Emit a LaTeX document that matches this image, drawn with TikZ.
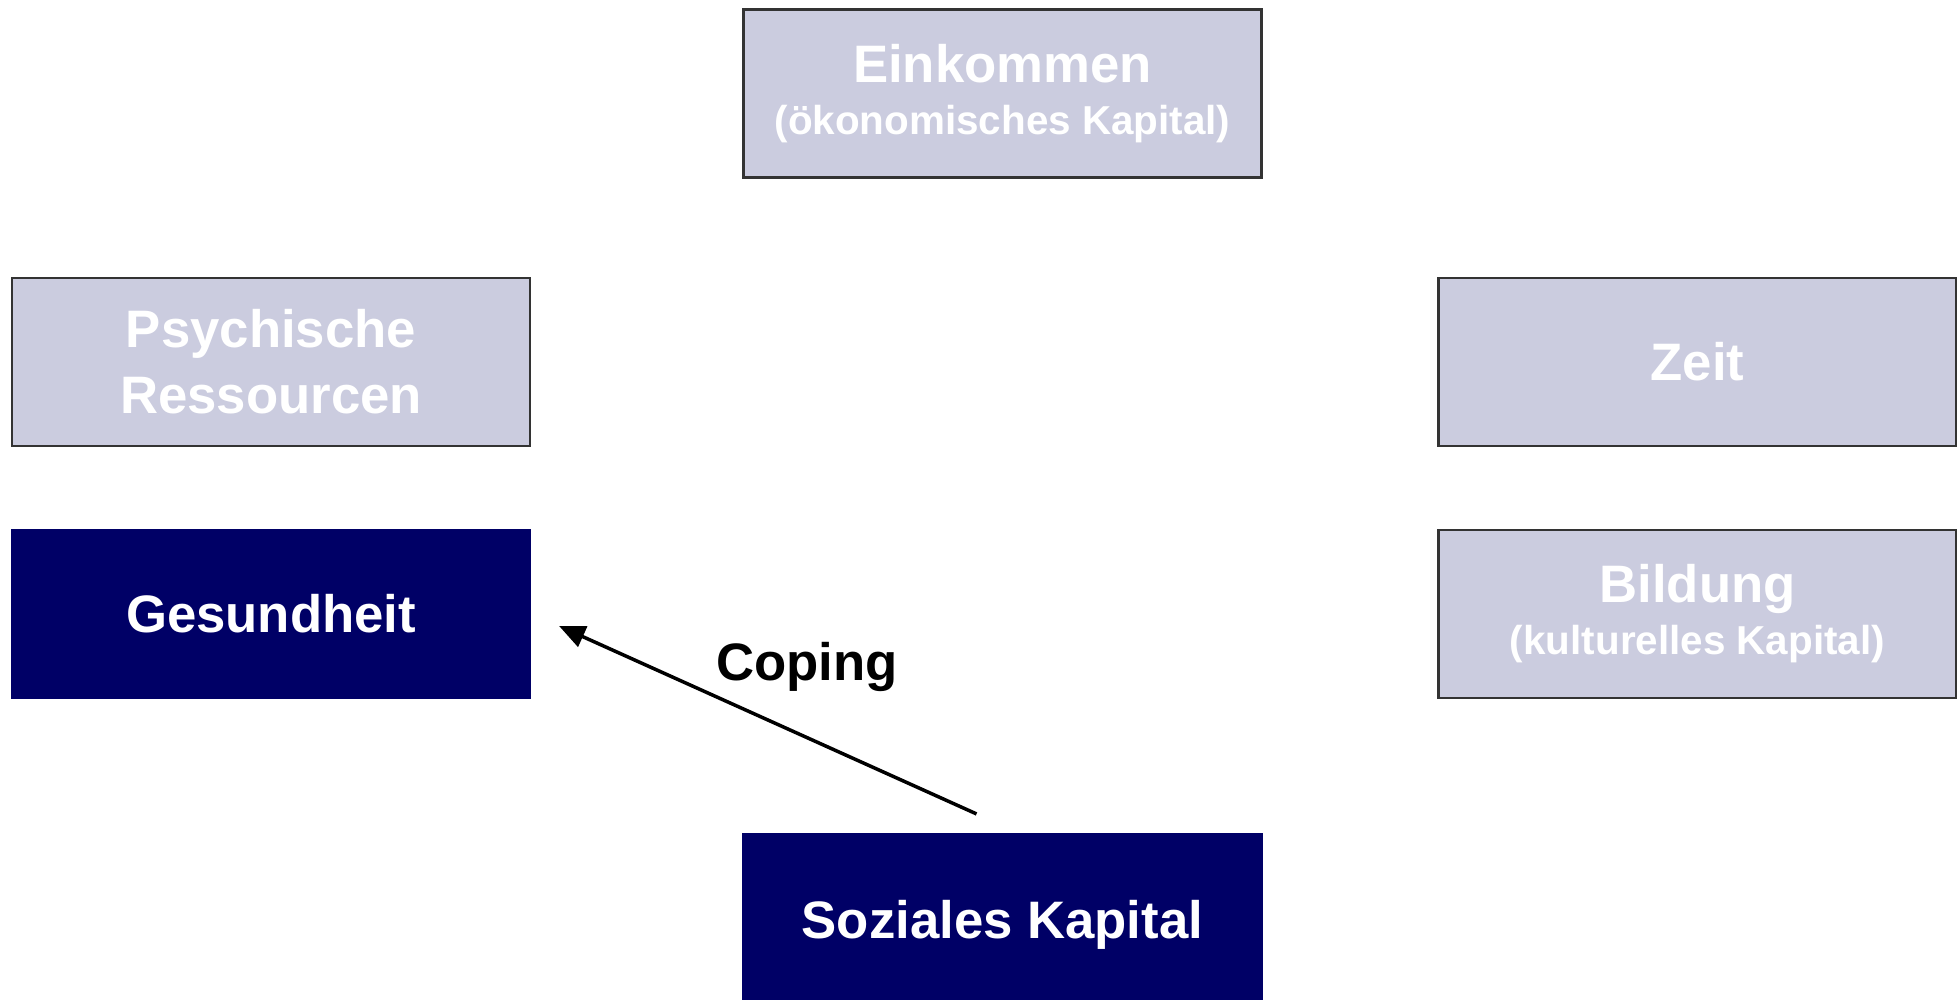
\documentclass[tikz,border=0pt]{standalone}
\usepackage{fontspec}
\setmainfont{Liberation Sans}
\usepackage{tikz}
\usetikzlibrary{arrows.meta, positioning}

\definecolor{boxgrey}{HTML}{CBCCDF}
\definecolor{boxline}{HTML}{333333}
\definecolor{navy}{HTML}{000066}

\newcommand{\subline}[1]{{\fontsize{11.5}{14}\selectfont #1}}

\begin{document}
\begin{tikzpicture}[
    res/.style={draw=boxline, line width=0.6pt, fill=boxgrey, text=white,
      minimum width=5.18cm, minimum height=1.68cm, align=center,
      font=\bfseries\fontsize{15}{18.8}\selectfont},
    focus/.style={res, draw=navy, fill=navy},
    coping/.style={-{Triangle[length=2.6mm, width=2.2mm]}, line width=1pt}
  ]
  \useasboundingbox (0,0) rectangle (19.57,10);
  % Resources (greyed out)
  \node[res] (ein) at (10.025,9.065) {Einkommen\\[-4pt]\subline{(ökonomisches Kapital)}};
  \node[res] (psy) at (2.71,6.38) {Psychische\\Ressourcen};
  \node[res] (zeit) at (16.975,6.38) {Zeit};
  \node[res] (bil) at (16.975,3.86) {Bildung\\[-4pt]\subline{(kulturelles Kapital)}};
  % Highlighted resources
  \node[focus] (ges) at (2.71,3.86) {Gesundheit};
  \node[focus, minimum height=1.82cm] (soz) at (10.025,0.75) {Soziales Kapital};
  % Coping arrow
  \draw[coping] ([xshift=-2.6mm, yshift=1.9mm]soz.north) -- ([xshift=2.8mm, yshift=-1.2mm]ges.east);
  \node[font=\bfseries\fontsize{15}{18}\selectfont] (lbl) at (8.07,3.33) {Coping};
\end{tikzpicture}
\end{document}
